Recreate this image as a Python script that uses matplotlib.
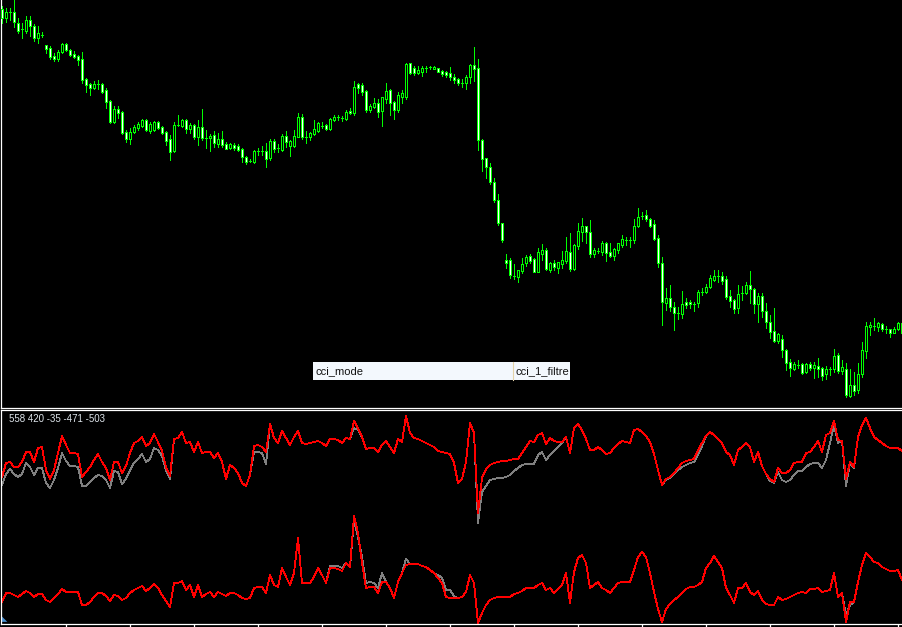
import matplotlib
matplotlib.use("Agg")
import matplotlib.pyplot as plt
from matplotlib.patches import Rectangle, Polygon
from matplotlib.lines import Line2D
import numpy as np

bar_open = [9, 18, 12, 12, 23, 29, 31, 20, 26, 38,
            35, 45, 48, 56, 59, 52, 44, 50, 54, 56,
            59, 79, 84, 88, 84, 84, 90, 101, 122, 109,
            112, 132, 139, 132, 128, 126, 120, 131, 130, 122,
            127, 132, 139, 151, 125, 126, 120, 129, 125, 137,
            127, 138, 138, 135, 144, 139, 144, 148, 145, 146,
            149, 157, 161, 162, 151, 151, 151, 158, 141, 148,
            150, 136, 146, 146, 137, 117, 137, 137, 134, 131,
            126, 125, 129, 120, 117, 118, 119, 111, 113, 84,
            85, 91, 110, 107, 103, 111, 99, 90, 102, 110,
            97, 97, 63, 68, 73, 72, 68, 67, 69, 68,
            71, 72, 73, 77, 79, 83, 83, 77, 65, 68,
            140, 158, 167, 182, 200, 223, 260, 260, 276, 277,
            271, 263, 256, 259, 272, 254, 250, 270, 263, 268,
            264, 261, 252, 269, 246, 232, 226, 232, 254, 251,
            252, 243, 252, 256, 250, 245, 240, 240, 240, 226,
            216, 215, 219, 224, 238, 263, 303, 298, 307, 313,
            314, 302, 302, 304, 303, 292, 292, 287, 280, 276,
            276, 279, 296, 300, 308, 293, 293, 285, 289, 304,
            296, 311, 322, 331, 341, 339, 350, 362, 369, 365,
            364, 372, 364, 368, 366, 368, 374, 369, 369, 355,
            371, 369, 396, 385, 390, 374, 351, 327, 326, 327,
            324, 329, 329, 333, 329, 323]
bar_close = [18, 12, 12, 22, 31, 29, 20, 26, 38, 33,
             35, 49, 57, 59, 52, 44, 50, 55, 57, 60,
             80, 85, 88, 84, 84, 92, 102, 122, 109, 113,
             133, 139, 132, 127, 124, 120, 130, 124, 122, 128,
             133, 141, 152, 125, 125, 120, 129, 125, 137, 127,
             138, 138, 136, 143, 139, 145, 149, 144, 148, 150,
             157, 162, 161, 151, 151, 151, 159, 141, 149, 148,
             136, 142, 141, 136, 117, 137, 137, 133, 129, 123,
             126, 129, 119, 117, 117, 118, 112, 113, 87, 88,
             92, 110, 106, 103, 112, 97, 91, 103, 110, 95,
             93, 64, 73, 73, 70, 68, 68, 67, 67, 72,
             74, 75, 77, 80, 83, 83, 77, 65, 69, 140,
             159, 167, 182, 200, 223, 240, 263, 275, 276, 270,
             264, 257, 261, 272, 252, 250, 269, 263, 267, 262,
             260, 251, 269, 245, 231, 226, 232, 254, 250, 251,
             243, 253, 256, 249, 243, 239, 240, 240, 226, 217,
             216, 219, 226, 239, 263, 302, 298, 307, 313, 313,
             304, 305, 304, 304, 292, 292, 287, 278, 276, 276,
             281, 297, 301, 309, 294, 293, 285, 289, 304, 296,
             311, 322, 332, 341, 334, 350, 363, 368, 364, 365,
             373, 364, 368, 365, 369, 376, 369, 369, 356, 371,
             367, 395, 385, 391, 374, 350, 326, 325, 326, 323,
             329, 329, 333, 329, 323, 333]
bar_high = [6, 8, 8, 0, 18, 23, 16, 16, 24, 26,
            32, 45, 46, 53, 50, 43, 43, 49, 51, 55,
            52, 78, 83, 81, 80, 83, 88, 100, 106, 106,
            111, 130, 128, 125, 122, 119, 119, 122, 121, 121,
            126, 131, 135, 122, 115, 119, 119, 123, 124, 120,
            109, 130, 134, 131, 133, 131, 142, 143, 143, 144,
            148, 156, 159, 150, 148, 146, 143, 139, 139, 144,
            134, 131, 140, 130, 113, 114, 131, 132, 120, 122,
            122, 124, 118, 115, 115, 116, 110, 108, 81, 83,
            83, 90, 104, 98, 99, 97, 83, 89, 101, 92,
            90, 63, 63, 66, 66, 66, 66, 66, 66, 68,
            70, 71, 67, 74, 78, 79, 75, 64, 47, 59,
            139, 158, 163, 178, 194, 223, 254, 258, 264, 270,
            258, 255, 254, 258, 248, 244, 248, 262, 260, 262,
            251, 237, 233, 244, 223, 218, 226, 220, 248, 248,
            241, 242, 243, 248, 243, 235, 237, 237, 219, 208,
            212, 210, 218, 220, 235, 257, 288, 285, 302, 307,
            291, 298, 300, 302, 290, 288, 284, 275, 270, 270,
            272, 276, 290, 299, 285, 286, 282, 271, 288, 293,
            293, 303, 315, 308, 333, 335, 349, 359, 362, 360,
            363, 363, 362, 362, 358, 367, 366, 367, 349, 353,
            360, 363, 369, 372, 363, 342, 322, 322, 318, 322,
            323, 326, 329, 327, 322, 322]
bar_low = [23, 22, 20, 27, 33, 38, 33, 36, 41, 43,
           37, 53, 59, 61, 61, 53, 51, 56, 58, 65,
           83, 92, 95, 89, 89, 93, 108, 123, 123, 118,
           134, 142, 144, 133, 130, 127, 131, 133, 131, 129,
           134, 145, 160, 152, 126, 127, 133, 133, 139, 145,
           140, 148, 151, 147, 147, 147, 149, 149, 150, 151,
           162, 164, 162, 163, 155, 155, 167, 160, 152, 152,
           151, 147, 156, 147, 137, 139, 143, 140, 135, 132,
           128, 130, 130, 121, 120, 121, 120, 114, 115, 93,
           95, 112, 112, 108, 117, 126, 103, 115, 119, 112,
           103, 99, 74, 75, 74, 76, 72, 69, 69, 72,
           76, 77, 80, 83, 85, 87, 89, 83, 81, 150,
           171, 178, 184, 202, 225, 242, 268, 278, 279, 282,
           273, 266, 263, 272, 272, 260, 270, 272, 270, 273,
           268, 263, 271, 270, 249, 241, 243, 257, 257, 253,
           255, 261, 257, 260, 253, 247, 245, 247, 243, 227,
           219, 221, 227, 240, 267, 325, 310, 311, 330, 319,
           318, 308, 308, 311, 307, 295, 293, 288, 281, 282,
           284, 299, 307, 313, 313, 300, 294, 303, 313, 322,
           317, 328, 338, 342, 343, 357, 370, 376, 370, 368,
           374, 373, 370, 378, 377, 380, 379, 375, 372, 373,
           374, 397, 397, 395, 393, 377, 358, 335, 330, 331,
           331, 333, 337, 333, 330, 335]

# indicator buffers (panel units, larger = lower on the panel)
cci_mode_red = [477, 463, 462, 467, 467, 462, 452, 452, 462, 448,
                447, 470, 479, 470, 453, 436, 445, 453, 453, 454,
                477, 472, 467, 460, 454, 462, 468, 480, 462, 462,
                473, 466, 453, 443, 441, 437, 446, 443, 434, 442,
                451, 467, 476, 439, 438, 432, 443, 442, 452, 442,
                453, 452, 452, 458, 453, 462, 479, 465, 468, 473,
                483, 486, 475, 446, 445, 447, 452, 424, 438, 443,
                431, 438, 445, 437, 431, 443, 444, 443, 442, 441,
                443, 446, 439, 439, 440, 443, 438, 439, 421, 428,
                437, 449, 448, 448, 452, 445, 441, 447, 453, 439,
                442, 416, 433, 438, 439, 441, 443, 445, 447, 451,
                452, 453, 454, 463, 483, 479, 462, 423, 433, 513,
                478, 469, 465, 463, 462, 461, 461, 460, 459, 459,
                453, 447, 441, 442, 435, 433, 444, 438, 441, 442,
                442, 437, 453, 428, 424, 430, 439, 450, 450, 447,
                450, 454, 453, 448, 444, 441, 442, 443, 430, 429,
                432, 436, 442, 454, 470, 485, 479, 477, 473, 468,
                463, 461, 460, 459, 450, 443, 436, 432, 435, 439,
                443, 452, 455, 465, 450, 447, 443, 447, 462, 452,
                466, 474, 479, 482, 468, 473, 473, 470, 463, 462,
                462, 453, 452, 447, 441, 452, 435, 433, 421, 440,
                441, 479, 462, 467, 437, 425, 418, 428, 437, 440,
                443, 446, 448, 448, 448, 451]
cci_mode_gray = list(cci_mode_red)
cci_mode_gray[0:43] = [485, 474, 469, 474, 477, 474, 463, 467, 475, 468,
                       468, 483, 488, 480, 468, 453, 461, 466, 466, 467,
                       486, 486, 482, 478, 475, 476, 480, 488, 471, 472,
                       484, 479, 470, 463, 459, 454, 462, 459, 448, 450,
                       456, 470, 479]
cci_mode_gray[63:67] = [452, 452, 453, 464]
cci_mode_gray[88:90] = [428, 430]
cci_mode_gray[119:141] = [523, 492, 486, 480, 479, 478, 478, 477, 475, 471,
                          468, 465, 464, 464, 464, 455, 452, 460, 455, 451,
                          447, 443]
cci_mode_gray[166:176] = [480, 478, 474, 470, 467, 465, 463, 462, 455, 446]
cci_mode_gray[192:214] = [481, 483, 472, 480, 482, 480, 475, 471, 471, 467,
                          464, 463, 463, 468, 460, 443, 425, 443, 441, 486,
                          463, 468]

cci_filtre_red = [602, 593, 593, 595, 597, 594, 591, 593, 597, 594,
                  594, 600, 602, 598, 594, 589, 592, 592, 592, 592,
                  605, 605, 602, 597, 593, 593, 596, 601, 595, 596,
                  600, 598, 593, 590, 588, 586, 591, 588, 584, 588,
                  595, 601, 607, 583, 583, 581, 590, 585, 597, 585,
                  597, 594, 592, 597, 592, 594, 596, 593, 593, 595,
                  598, 599, 598, 588, 587, 587, 593, 575, 585, 587,
                  568, 577, 585, 573, 538, 583, 583, 583, 577, 568,
                  575, 583, 568, 568, 569, 571, 563, 567, 516, 533,
                  563, 588, 587, 587, 593, 582, 582, 588, 598, 582,
                  573, 565, 564, 564, 564, 566, 567, 570, 573, 578,
                  583, 597, 598, 598, 598, 597, 592, 575, 583, 623,
                  613, 605, 600, 598, 597, 597, 597, 597, 594, 593,
                  591, 588, 588, 588, 585, 583, 590, 588, 593, 589,
                  585, 573, 603, 572, 558, 555, 563, 588, 585, 582,
                  588, 590, 593, 588, 583, 582, 582, 582, 570, 557,
                  552, 557, 573, 592, 609, 622, 609, 604, 600, 597,
                  593, 589, 587, 587, 585, 582, 568, 563, 556, 562,
                  568, 588, 595, 603, 588, 588, 583, 592, 595, 591,
                  600, 604, 605, 605, 597, 600, 599, 597, 595, 593,
                  592, 593, 589, 589, 588, 592, 591, 590, 573, 597,
                  593, 622, 602, 602, 582, 565, 553, 557, 562, 563,
                  567, 569, 571, 571, 570, 580]
cci_filtre_gray = list(cci_filtre_red)
cci_filtre_gray[82:87] = [566, 566, 566, 568, 563]
cci_filtre_gray[88:96] = [520, 537, 557, 583, 582, 583, 588, 573]
cci_filtre_gray[101] = 559
cci_filtre_gray[109:114] = [575, 578, 590, 590, 596]
cci_filtre_gray[211:213] = [615, 605]

cci_readout = [558, 420, -35, -471, -503]
legend_names = ["cci_mode", "cci_1_filtre"]

W, H = 903, 627
fig = plt.figure(figsize=(W / 100, H / 100), dpi=100, facecolor="black")

n = len(bar_open)
bars = np.arange(n)
xlim = (-0.25, 225.25)

# ---- price window ----
ax = fig.add_axes([1 / W, (H - 407.5) / H, 902 / W, 407.5 / H], facecolor="black")
ax.set_xlim(*xlim)
ax.set_ylim(407.5, 0)
ax.vlines(bars, bar_high, bar_low, colors="#00ff00", linewidth=0.72,
          antialiased=False, zorder=2)
for i in range(n):
    o, c = bar_open[i], bar_close[i]
    face = "white" if c > o else "black"   # depth grows downward: c > o is a falling bar
    ax.add_patch(Rectangle((i - 0.32, min(o, c)), 0.64, abs(c - o),
                           facecolor=face, edgecolor="#00ff00", linewidth=0.72,
                           antialiased=False, zorder=3))
ax.set_xticks([])
ax.set_yticks([])
for s in ["top", "right"]:
    ax.spines[s].set_visible(False)
for s in ["left", "bottom"]:
    ax.spines[s].set_color("white")
    ax.spines[s].set_linewidth(0.9)

# ---- indicator window ----
ax2 = fig.add_axes([1 / W, (H - 624) / H, 902 / W, (624 - 409.5) / H], facecolor="black")
ax2.set_xlim(*xlim)
ax2.set_ylim(624, 409.5)
ax2.plot(bars, cci_mode_gray, color="#808080", lw=0.6, antialiased=False)
ax2.plot(bars, cci_filtre_gray, color="#808080", lw=0.6, antialiased=False)
ax2.plot(bars, cci_mode_red, color="#ff0000", lw=0.6, antialiased=False)
ax2.plot(bars, cci_filtre_red, color="#ff0000", lw=0.6, antialiased=False)
ax2.spines["right"].set_visible(False)
for s in ["left", "top", "bottom"]:
    ax2.spines[s].set_color("white")
    ax2.spines[s].set_linewidth(0.9)
ax2.set_yticks([])
ax2.set_xticks(np.arange(16, n, 16))
ax2.tick_params(axis="x", direction="out", length=2.5, width=0.9,
                color="white", labelbottom=False)
ax2.text(0.009, 0.955, " ".join(str(v) for v in cci_readout),
         transform=ax2.transAxes, color="#dde4ea", fontsize=7,
         family="Liberation Sans", va="center", ha="left")
ax2.add_patch(Polygon([[0.001, 0.01], [0.001, 0.035], [0.007, 0.01]], closed=True,
                      transform=ax2.transAxes, facecolor="#4a90d0",
                      edgecolor="none", clip_on=False))

# ---- object list strip ----
fig.add_artist(Rectangle((313 / W, 1 - 380 / H), 257 / W, 18 / H,
                         transform=fig.transFigure, facecolor="#f3f8fd",
                         edgecolor="none"))
fig.add_artist(Line2D([513 / W, 513 / W], [1 - 380 / H, 1 - 362 / H],
                      transform=fig.transFigure, color="#e4d3a8", lw=0.8))
fig.text(316 / W, 1 - 371.5 / H, legend_names[0], fontsize=8,
         family="Liberation Sans", color="#111111", va="center")
fig.text(516 / W, 1 - 371.5 / H, legend_names[1], fontsize=8,
         family="Liberation Sans", color="#111111", va="center")

fig.savefig("out.png", dpi=100, facecolor="black")
